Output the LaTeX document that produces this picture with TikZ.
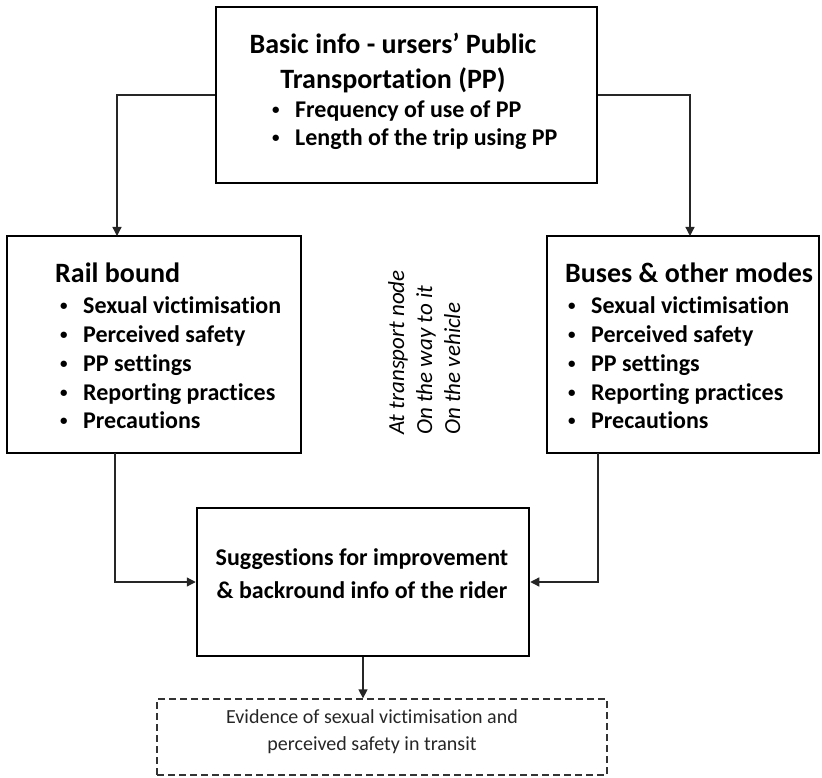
\documentclass[tikz,border=0pt]{standalone}
\usepackage{fontspec}
\setmainfont{Carlito}[Ligatures=NoCommon]
\usetikzlibrary{arrows.meta}
\newcommand\itembul[1]{\makebox[23pt][l]{\raisebox{3pt}{\fontsize{15}{15}\selectfont •}}#1}
\begin{document}
\begin{tikzpicture}[x=1pt,y=-1pt,
  box/.style={draw=black, line width=2.5pt, inner sep=0pt},
  dbox/.style={draw=black!80, line width=1.3pt, dash pattern=on 7pt off 4pt, inner sep=0pt},
  conn/.style={draw=black!85, line width=1.3pt, -{Triangle[length=9pt,width=9pt]}},
  txt/.style={inner sep=0pt, anchor=base west, text=black},
  ttl/.style={txt, font=\fontsize{28}{34}\selectfont\bfseries},
  sug/.style={txt, anchor=base, font=\fontsize{24}{30}\selectfont\bfseries},
  sub/.style={txt, font=\fontsize{28}{31}\selectfont\bfseries},
  itm/.style={txt, font=\fontsize{24}{28}\selectfont\bfseries},
  rot/.style={txt, rotate=90, font=\fontsize{23}{27}\selectfont\itshape},
  ev/.style={txt, anchor=base, font=\fontsize{20}{27}\selectfont, text=black!85}]
\useasboundingbox (0,0) rectangle (822,778);

% boxes
\node[box, minimum width=381pt, minimum height=176pt] (top) at (406.5,95) {};
\node[box, minimum width=294pt, minimum height=217pt] (rail) at (154,344.5) {};
\node[box, minimum width=272pt, minimum height=217pt] (bus) at (683,344.5) {};
\node[box, minimum width=332pt, minimum height=148pt] (sugg) at (363,582) {};
\node[dbox, minimum width=450pt, minimum height=76pt] (evid) at (382,737) {};

% top box text
\node[ttl, anchor=base] (t1) at (393,54) {Basic info - ursers’ Public};
\node[ttl, anchor=base] (t2) at (393,89) {Transportation (PP)};
\node[itm] (t3) at (272,118) {\itembul{Frequency of use of PP}};
\node[itm] (t4) at (272,146) {\itembul{Length of the trip using PP}};

% rail text
\node[sub] (r0) at (55,283) {Rail bound};
\node[itm] (r1) at (60,313) {\itembul{Sexual victimisation}};
\node[itm] (r2) at (60,342) {\itembul{Perceived safety}};
\node[itm] (r3) at (60,371) {\itembul{PP settings}};
\node[itm] (r4) at (60,400) {\itembul{Reporting practices}};
\node[itm] (r5) at (60,428) {\itembul{Precautions}};

% bus text
\node[sub] (b0) at (565,283) {Buses \& other modes};
\node[itm] (b1) at (568,313) {\itembul{Sexual victimisation}};
\node[itm] (b2) at (568,342) {\itembul{Perceived safety}};
\node[itm] (b3) at (568,371) {\itembul{PP settings}};
\node[itm] (b4) at (568,400) {\itembul{Reporting practices}};
\node[itm] (b5) at (568,428) {\itembul{Precautions}};

% rotated text
\node[rot] (m1) at (404,435) {At transport node};
\node[rot] (m2) at (432,435) {On the way to it};
\node[rot] (m3) at (460,435) {On the vehicle};

% suggestions text
\node[sug] (s1) at (362,565) {Suggestions for improvement};
\node[sug] (s2) at (362,598) {\& backround info of the rider};

% evidence text
\node[ev] (e1) at (372,723) {Evidence of sexual victimisation and};
\node[ev] (e2) at (372,750) {perceived safety in transit};

% connectors
\coordinate (railin) at (117,236);
\coordinate (busin) at (690,236);
\coordinate (railout) at (115,453);
\coordinate (busout) at (598,453);
\draw[conn] (top.west) -| (railin);
\draw[conn] (top.east) -| (busin);
\draw[conn] (railout) |- (sugg.west);
\draw[conn] (busout) |- (sugg.east);
\draw[conn] (sugg.south) -- (sugg.south |- evid.north);
\end{tikzpicture}
\end{document}
